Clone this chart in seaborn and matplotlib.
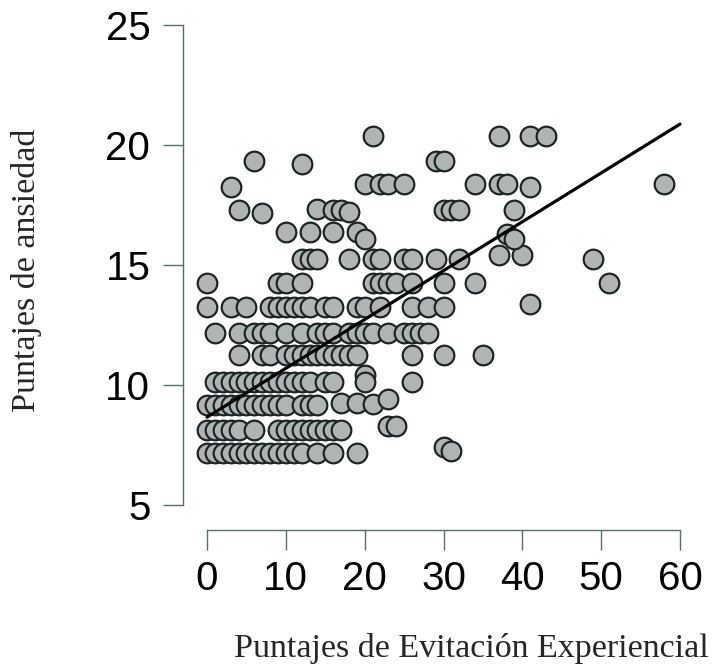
import numpy as np
import matplotlib
matplotlib.use("Agg")
import matplotlib.pyplot as plt
import seaborn as sns

# Puntajes de Evitación Experiencial (x) y de ansiedad (y), leídos fila por fila
x_evit = [
    # ~7.2
    0, 1, 2, 3, 4, 5, 6, 7, 8, 9, 10, 11, 12, 14, 16, 19, 30, 31,
    # ~8.1
    0, 1, 2, 3, 4, 6, 9, 10, 11, 12, 13, 14, 15, 16, 17, 23, 24,
    # ~9.2
    0, 1, 2, 3, 4, 5, 6, 7, 8, 9, 10, 12, 13, 14, 17, 19, 21, 23,
    # ~10.1
    1, 2, 3, 4, 5, 6, 7, 8, 9, 10, 11, 12, 13, 15, 16, 20, 20, 26,
    # ~11.2
    4, 7, 8, 10, 11, 12, 13, 14, 15, 16, 17, 18, 19, 26, 30, 35,
    # ~12.2
    1, 4, 6, 7, 8, 10, 12, 14, 15, 16, 18, 19, 20, 21, 23, 25, 26, 27, 28,
    # ~13.3
    0, 3, 5, 8, 9, 10, 11, 12, 13, 15, 16, 19, 20, 22, 26, 28, 30, 41,
    # ~14.2
    0, 9, 10, 12, 21, 22, 23, 24, 26, 30, 34, 51,
    # ~15.3
    12, 13, 14, 18, 21, 22, 25, 26, 29, 32, 37, 40, 49,
    # ~16.3
    10, 13, 16, 19, 20, 38, 39,
    # ~17.3
    4, 7, 14, 16, 17, 18, 30, 31, 32, 39,
    # ~18.4
    3, 20, 22, 23, 25, 34, 37, 38, 41, 58,
    # ~19.3
    6, 12, 29, 30,
    # ~20.4
    21, 37, 41, 43,
]

y_ansiedad = (
    [7.15] * 16 + [7.4, 7.25]
    + [8.13] * 15 + [8.28, 8.28]
    + [9.15] * 14 + [9.25, 9.25, 9.2, 9.42]
    + [10.12] * 15 + [10.4, 10.12, 10.12]
    + [11.24] * 16
    + [12.17] * 19
    + [13.27] * 17 + [13.37]
    + [14.24] * 12
    + [15.25] * 10 + [15.42, 15.4, 15.25]
    + [16.36] * 4 + [16.1, 16.3, 16.1]
    + [17.28, 17.15, 17.35, 17.28, 17.28, 17.2, 17.28, 17.28, 17.28, 17.28]
    + [18.25, 18.37, 18.37, 18.37, 18.37, 18.37, 18.37, 18.37, 18.25, 18.37]
    + [19.35, 19.2, 19.35, 19.35]
    + [20.37] * 4
)

# Recta de regresión (extremos)
recta_x = [0, 60]
recta_y = [8.66, 20.87]

x_ticks = [0, 10, 20, 30, 40, 50, 60]
y_ticks = [5, 10, 15, 20, 25]

sns.set_style("ticks")
axis_col = "#55706e"

fig = plt.figure(figsize=(7.12, 6.66), dpi=100)
ax = fig.add_axes([183 / 712, 1 - 530 / 666, (704 - 183) / 712, (530 - 5) / 666])

sns.scatterplot(x=x_evit, y=y_ansiedad, ax=ax, s=200, color="#b0b4b4",
                edgecolor="#1c2626", linewidth=1.6, zorder=2, legend=False)
sns.lineplot(x=recta_x, y=recta_y, ax=ax, color="black", linewidth=2.3, zorder=3)

ax.set_xlim(-3.05, 63.05)
ax.set_ylim(5 - 25 / 24, 25 + 20 / 24)
ax.set_xticks(x_ticks)
ax.set_yticks(y_ticks)
ax.set_xticklabels([str(v) for v in x_ticks])
ax.set_yticklabels([str(v) for v in y_ticks])

for side in ["top", "right"]:
    ax.spines[side].set_visible(False)
ax.spines["left"].set_bounds(5, 25)
ax.spines["bottom"].set_bounds(0, 60)
for side in ["left", "bottom"]:
    ax.spines[side].set_color(axis_col)
    ax.spines[side].set_linewidth(1.0)

ax.tick_params(axis="both", length=14.5, width=1.0, color=axis_col,
               labelsize=29, labelcolor="black")
ax.tick_params(axis="y", pad=9)
ax.tick_params(axis="x", pad=7)
for lab in ax.get_xticklabels() + ax.get_yticklabels():
    lab.set_family("Liberation Sans")

ax.set_xlabel("")
ax.set_ylabel("")
fig.text(27 / 712, 1 - 270 / 666, "Puntajes de ansiedad", rotation=90,
         ha="center", va="center", fontsize=24.5, family="Liberation Serif")
fig.text(709 / 712, 1 - 649 / 666, "Puntajes de Evitación Experiencial",
         ha="right", va="center", fontsize=24.5, family="Liberation Serif")

fig.savefig("out.png", dpi=100)
